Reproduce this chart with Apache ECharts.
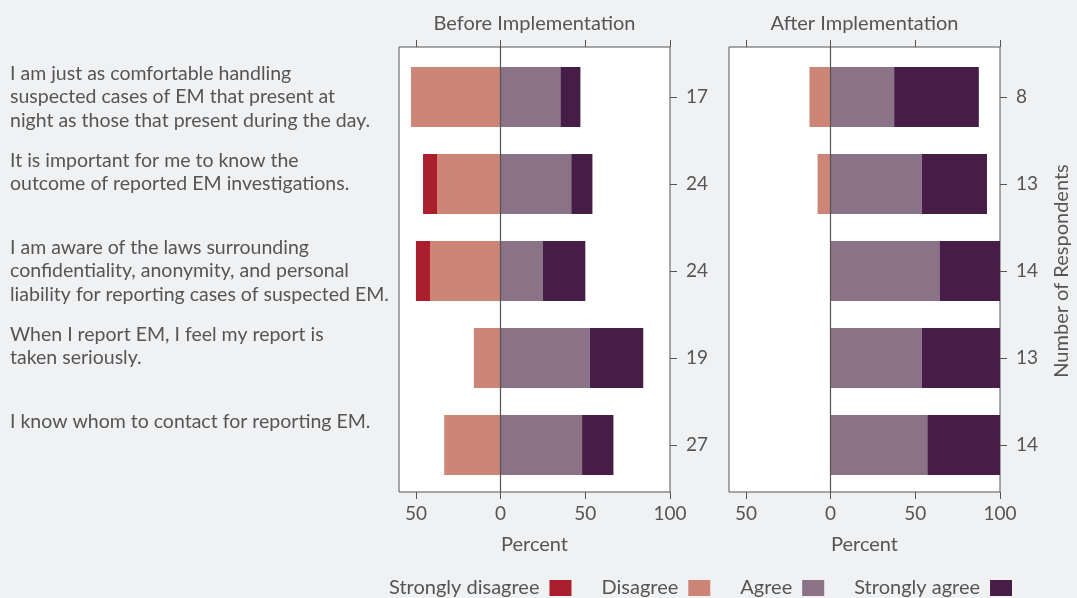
<!DOCTYPE html>
<html><head><meta charset="utf-8">
<script src="https://cdn.jsdelivr.net/npm/echarts@6/dist/echarts.min.js"></script>
<style>html,body{margin:0;padding:0;background:#f0f1f3}#c{width:1077px;height:598px}</style>
</head><body><div id="c"></div>
<script>
// ---- data ----
const statements = [
  'I am just as comfortable handling\nsuspected cases of EM that present at\nnight as those that present during the day.',
  'It is important for me to know the\noutcome of reported EM investigations.\n\u00a0',
  'I am aware of the laws surrounding\nconfidentiality, anonymity, and personal\nliability for reporting cases of suspected EM.',
  'When I report EM, I feel my report is\ntaken seriously.\n\u00a0',
  'I know whom to contact for reporting EM.\n\u00a0\n\u00a0'
];
const beforeN = ['17','24','24','19','27'];
const afterN  = ['8','13','14','13','14'];
// percentages (negatives plotted left of zero)
const beforeStronglyDisagree = [0, 8.3, 8.3, 0, 0];
const beforeDisagree         = [52.9, 37.5, 41.7, 15.8, 33.3];
const beforeAgree            = [35.3, 41.7, 25.0, 52.6, 48.1];
const beforeStronglyAgree    = [11.8, 12.5, 25.0, 31.6, 18.5];
const afterStronglyDisagree  = [0, 0, 0, 0, 0];
const afterDisagree          = [12.5, 7.7, 0, 0, 0];
const afterAgree             = [37.5, 53.8, 64.3, 53.8, 57.1];
const afterStronglyAgree     = [50.0, 38.5, 35.7, 46.2, 42.9];
const tickValues = [-50, 0, 50, 100];
const legendNames = ['Strongly disagree','Disagree','Agree','Strongly agree'];
const colors = {'Strongly disagree':'#ab1e2e','Disagree':'#cd8578','Agree':'#8a7386','Strongly agree':'#461d46'};

const FONT = 'Lato';
const TXT = '#555555';
const XMIN = -60, XMAX = 100;

function frameGrid(left){ return {left:left, top:47, width:271, height:445, show:true, backgroundColor:'#ffffff', borderColor:'#555', borderWidth:1}; }
function barGrid(left){ return {left:left, top:53.5, width:271, height:435, show:false}; }

function bottomX(gi){
  return {type:'value', gridIndex:gi, position:'bottom', min:XMIN, max:XMAX,
    axisLine:{show:false}, splitLine:{show:false},
    axisTick:{show:true, length:7, customValues:tickValues, lineStyle:{color:'#555'}},
    axisLabel:{customValues:tickValues, formatter:v=>String(Math.abs(v)), fontSize:19, color:TXT, fontFamily:FONT, margin:12},
    name:'Percent', nameLocation:'middle', nameGap:43, nameTextStyle:{fontSize:20, color:TXT, fontFamily:FONT}};
}
function topX(gi, title){
  return {type:'value', gridIndex:gi, position:'top', min:XMIN, max:XMAX,
    axisLine:{show:false}, splitLine:{show:false},
    axisTick:{show:true, length:7, customValues:tickValues, lineStyle:{color:'#555'}},
    axisLabel:{show:false},
    name:title, nameLocation:'middle', nameGap:13, nameTextStyle:{fontSize:20, color:TXT, fontFamily:FONT}};
}
function hiddenX(gi){ return {type:'value', gridIndex:gi, min:XMIN, max:XMAX, show:false}; }
function zeroY(gi){
  return {type:'value', gridIndex:gi, min:0, max:1, z:10,
    axisLine:{show:true, onZero:true, lineStyle:{color:'#555', width:1.2}},
    axisTick:{show:false}, axisLabel:{show:false}, splitLine:{show:false}};
}
function countY(gi, data, withName){
  const a = {type:'category', gridIndex:gi, position:'right', inverse:true, data:data,
    axisLine:{show:false}, axisTick:{show:true, length:7, alignWithLabel:true, lineStyle:{color:'#555'}},
    axisLabel:{fontSize:19, color:TXT, fontFamily:FONT, margin:16}};
  if (withName) {
    a.name = 'Number of Respondents'; a.nameLocation='middle'; a.nameRotate=90; a.nameGap=52;
    a.nameTextStyle = {fontSize:20, color:TXT, fontFamily:FONT};
  }
  return a;
}

const xAxis = [bottomX(0), topX(0,'Before Implementation'), hiddenX(1),
               bottomX(2), topX(2,'After Implementation'), hiddenX(3)];
const yAxis = [
  zeroY(0),
  {type:'category', gridIndex:1, position:'left', inverse:true, data:statements,
   axisLine:{show:false}, axisTick:{show:false},
   axisLabel:{align:'left', margin:389, fontSize:19.5, lineHeight:23.5, color:TXT, fontFamily:FONT}},
  countY(1, beforeN, false),
  zeroY(2),
  {type:'category', gridIndex:3, position:'left', inverse:true, data:statements, show:false},
  countY(3, afterN, true)
];

function mkSeries(name, vals, xi, yi, neg){
  return {name:name, type:'bar', stack:'s'+xi, xAxisIndex:xi, yAxisIndex:yi, barWidth:60,
    itemStyle:{color:colors[name]}, emphasis:{disabled:true},
    data: vals.map(v => neg ? -v : v)};
}
const series = [
  mkSeries('Disagree', beforeDisagree, 2, 1, true),
  mkSeries('Strongly disagree', beforeStronglyDisagree, 2, 1, true),
  mkSeries('Agree', beforeAgree, 2, 1, false),
  mkSeries('Strongly agree', beforeStronglyAgree, 2, 1, false),
  mkSeries('Disagree', afterDisagree, 5, 4, true),
  mkSeries('Strongly disagree', afterStronglyDisagree, 5, 4, true),
  mkSeries('Agree', afterAgree, 5, 4, false),
  mkSeries('Strongly agree', afterStronglyAgree, 5, 4, false)
];

const chart = echarts.init(document.getElementById('c'), null, {renderer:'canvas'});
chart.setOption({
  backgroundColor:'#f0f1f3',
  animation:false,
  textStyle:{fontFamily:FONT},
  grid:[frameGrid(399), barGrid(399), frameGrid(729), barGrid(729)],
  xAxis:xAxis, yAxis:yAxis,
  legend:{data:legendNames, left:384, top:573, align:'right', itemWidth:22, itemHeight:16, itemGap:30,
    icon:'rect', selectedMode:false,
    textStyle:{fontSize:20, color:TXT, fontFamily:FONT, padding:[0,5,0,0]}},
  series:series
});
</script></body></html>
